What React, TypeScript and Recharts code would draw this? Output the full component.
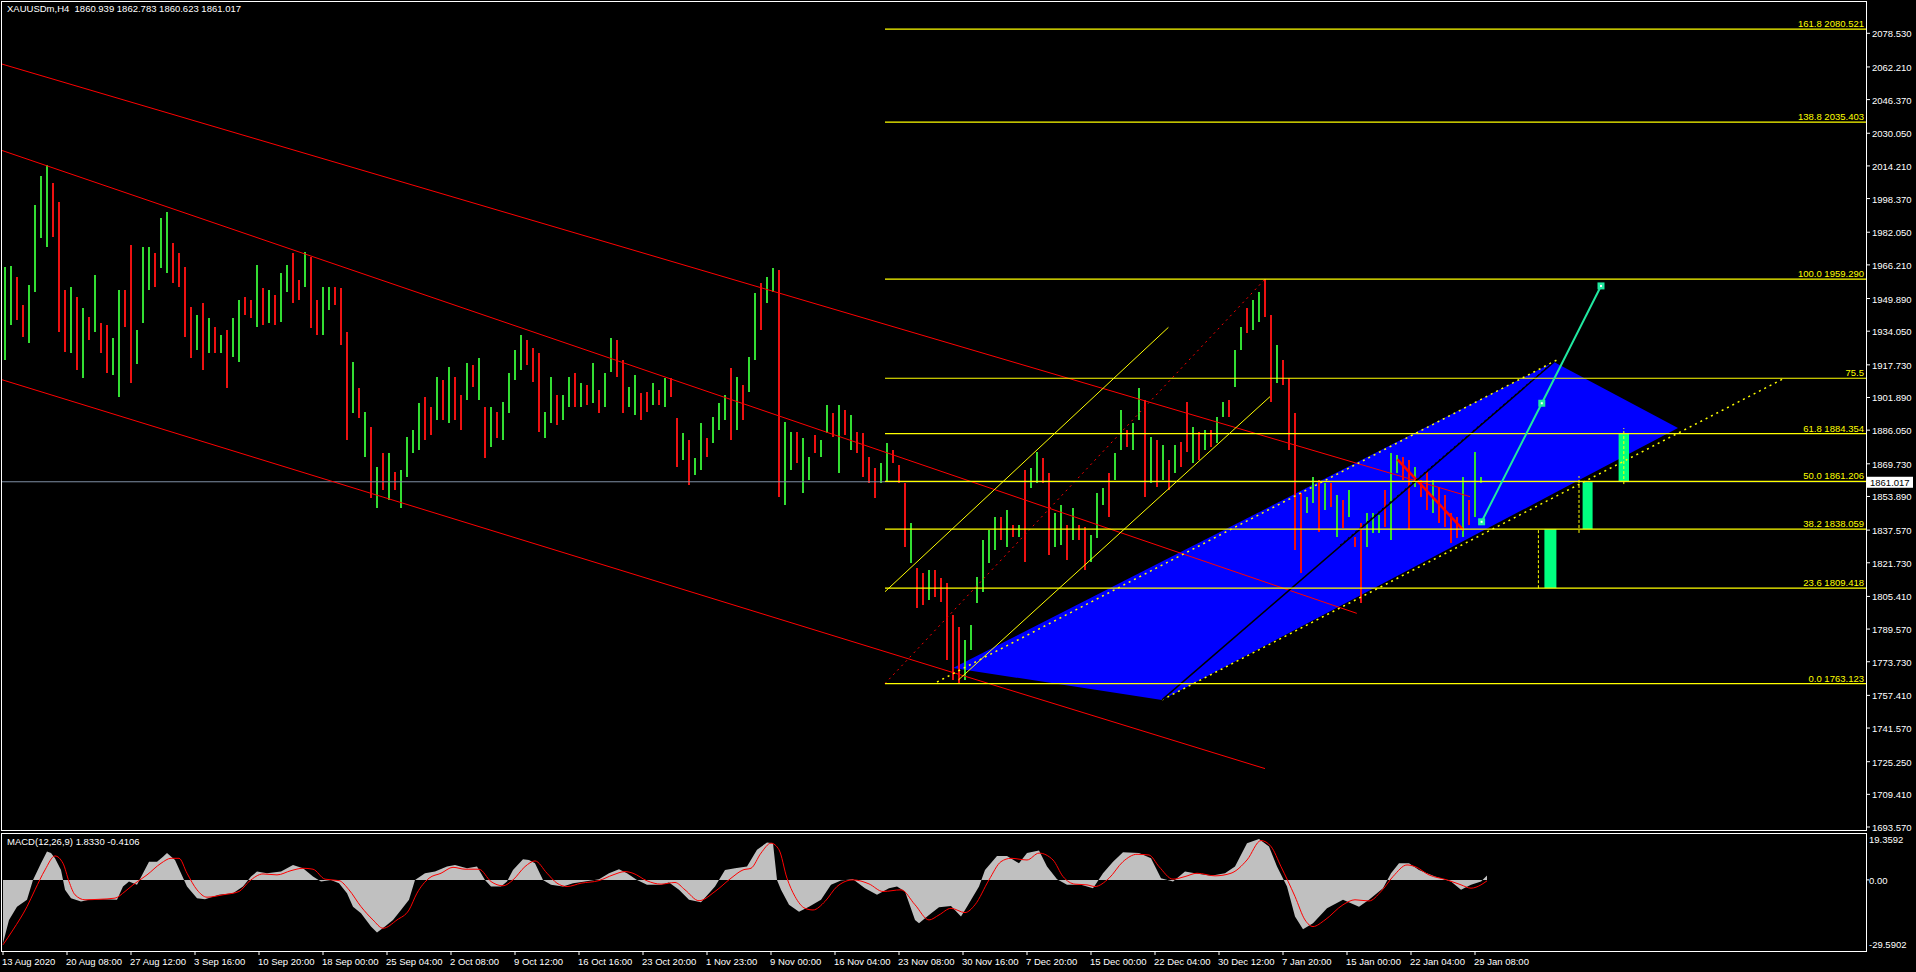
import React from 'react';
import { ComposedChart, Bar, Cell, Area, Line, XAxis, YAxis, ReferenceLine, ReferenceArea } from 'recharts';

const FONT = "'Liberation Sans', Arial, sans-serif";
const UP = '#33dd33';
const DOWN = '#ee1111';
const FIB = '#ffff00';

// H4 candles, one mark per 3 bars (bar index = 1 + 3 * i)
const candleHigh = [
  1965.2, 1965.7, 1960.4, 1946.8, 1956.5, 1995.3, 2009.3, 2014.7, 2005.9, 1996.7,
  1954.1, 1955.5, 1950.7, 1945.3, 1941.0, 1961.3, 1938.0, 1937.1, 1930.8, 1954.1,
  1954.1, 1975.9, 1934.7, 1974.9, 1974.9, 1972.0, 1989.0, 1991.9, 1976.8, 1972.0,
  1965.2, 1945.8, 1941.9, 1947.7, 1940.5, 1936.1, 1932.2, 1934.7, 1940.5, 1949.2,
  1950.7, 1949.2, 1966.2, 1955.0, 1954.1, 1951.6, 1962.3, 1966.2, 1972.0, 1958.9,
  1972.5, 1970.1, 1949.2, 1955.5, 1955.5, 1955.5, 1955.0, 1933.7, 1919.1, 1906.5,
  1894.9, 1887.6, 1868.2, 1875.0, 1875.0, 1865.8, 1866.8, 1882.8, 1886.2, 1899.2,
  1902.2, 1897.3, 1911.9, 1910.4, 1916.7, 1911.9, 1903.1, 1918.6, 1917.7, 1921.1,
  1897.3, 1897.3, 1894.9, 1899.7, 1913.8, 1925.0, 1932.2, 1929.8, 1925.9, 1923.5,
  1894.9, 1911.9, 1903.1, 1903.1, 1911.9, 1913.8, 1908.9, 1908.0, 1918.6, 1905.6,
  1913.8, 1930.8, 1929.8, 1920.1, 1907.0, 1912.8, 1904.1, 1904.6, 1908.9, 1905.6,
  1911.4, 1911.4, 1892.0, 1884.7, 1881.3, 1872.6, 1889.5, 1882.3, 1892.5, 1899.2,
  1903.1, 1916.2, 1911.9, 1908.0, 1921.6, 1952.6, 1957.4, 1960.4, 1964.7, 1963.8,
  1890.0, 1885.2, 1885.2, 1882.3, 1873.1, 1883.7, 1881.3, 1898.3, 1894.4, 1898.3,
  1895.9, 1893.4, 1885.2, 1884.7, 1873.1, 1867.7, 1870.1, 1879.8, 1876.5, 1869.2,
  1860.4, 1841.0, 1819.2, 1816.8, 1818.3, 1818.3, 1814.4, 1811.9, 1796.4, 1790.6,
  1784.3, 1791.6, 1814.9, 1832.8, 1837.7, 1844.0, 1844.0, 1847.4, 1840.1, 1840.1,
  1866.8, 1867.7, 1875.5, 1872.6, 1865.3, 1845.9, 1849.8, 1840.1, 1848.3, 1840.1,
  1839.1, 1835.2, 1855.6, 1858.0, 1865.3, 1875.0, 1895.9, 1886.2, 1889.5, 1906.5,
  1900.7, 1882.8, 1881.3, 1878.9, 1871.6, 1878.9, 1880.3, 1899.7, 1887.6, 1885.2,
  1886.2, 1886.2, 1892.5, 1899.7, 1900.7, 1925.0, 1936.1, 1945.3, 1949.2, 1953.1,
  1959.3, 1941.9, 1927.4, 1920.1, 1911.4, 1894.4, 1855.6, 1853.7, 1863.4, 1861.9,
  1860.4, 1860.4, 1854.6, 1852.2, 1857.1, 1834.3, 1841.0, 1845.9, 1845.9, 1844.9,
  1857.1, 1875.0, 1874.0, 1873.1, 1871.6, 1868.2, 1861.9, 1865.8, 1861.9, 1858.5,
  1854.6, 1845.9, 1844.0, 1863.4, 1852.2, 1875.5, 1863.4,
];

const candleLow = [
  1920.1, 1937.1, 1939.5, 1931.3, 1928.3, 1953.1, 1979.3, 1974.9, 1979.8, 1933.7,
  1924.0, 1923.5, 1915.3, 1911.4, 1929.8, 1933.7, 1923.5, 1913.8, 1912.8, 1902.2,
  1936.1, 1908.9, 1918.2, 1938.0, 1954.1, 1955.5, 1964.7, 1962.3, 1957.4, 1955.5,
  1931.3, 1921.1, 1925.0, 1915.3, 1923.5, 1923.5, 1923.5, 1906.5, 1921.6, 1919.1,
  1941.9, 1940.5, 1936.1, 1937.1, 1938.0, 1937.1, 1938.5, 1953.1, 1947.7, 1949.2,
  1955.5, 1935.6, 1932.2, 1932.2, 1944.4, 1946.8, 1927.4, 1881.3, 1894.4, 1892.0,
  1873.1, 1853.2, 1848.3, 1857.1, 1852.2, 1857.1, 1848.3, 1863.4, 1875.0, 1876.5,
  1881.3, 1883.7, 1891.0, 1891.0, 1889.5, 1891.0, 1886.2, 1900.7, 1907.0, 1900.7,
  1872.6, 1877.9, 1882.3, 1881.3, 1894.4, 1910.4, 1915.3, 1917.7, 1909.4, 1885.2,
  1882.3, 1889.5, 1888.6, 1891.0, 1897.3, 1897.3, 1897.3, 1898.3, 1899.2, 1894.4,
  1897.3, 1914.3, 1911.9, 1894.4, 1897.3, 1893.4, 1891.0, 1894.9, 1898.3, 1898.3,
  1897.3, 1902.2, 1868.2, 1871.6, 1859.5, 1864.3, 1866.8, 1873.1, 1879.8, 1886.2,
  1891.0, 1881.3, 1886.2, 1891.0, 1904.6, 1920.1, 1934.7, 1947.7, 1953.1, 1853.7,
  1849.8, 1866.8, 1870.1, 1855.6, 1861.9, 1875.0, 1873.1, 1884.7, 1882.8, 1865.3,
  1883.7, 1876.5, 1875.0, 1863.4, 1860.4, 1853.2, 1860.4, 1860.9, 1870.1, 1860.4,
  1829.4, 1821.6, 1799.8, 1801.3, 1803.7, 1805.2, 1802.7, 1774.6, 1764.9, 1763.1,
  1764.9, 1779.5, 1802.2, 1807.6, 1821.6, 1828.0, 1832.8, 1829.4, 1834.3, 1834.3,
  1822.1, 1858.0, 1860.4, 1860.4, 1825.5, 1829.4, 1830.4, 1823.1, 1832.8, 1832.8,
  1818.3, 1822.1, 1833.8, 1849.8, 1844.0, 1861.9, 1876.5, 1877.9, 1876.5, 1891.0,
  1853.7, 1860.4, 1858.5, 1861.9, 1857.1, 1865.3, 1868.2, 1875.5, 1870.1, 1871.6,
  1876.5, 1877.9, 1879.8, 1892.5, 1892.5, 1907.0, 1925.0, 1933.2, 1934.7, 1938.5,
  1941.0, 1899.7, 1908.9, 1908.0, 1876.5, 1828.0, 1816.8, 1845.9, 1850.7, 1836.7,
  1847.4, 1848.8, 1834.3, 1838.6, 1844.0, 1829.4, 1802.2, 1829.4, 1836.2, 1836.2,
  1839.1, 1832.8, 1865.3, 1861.9, 1837.7, 1858.5, 1853.7, 1847.4, 1845.9, 1841.0,
  1839.1, 1831.3, 1833.8, 1834.3, 1840.1, 1844.0, 1860.4,
];

// u = bull candle, d = bear candle
const candleDir = [
  'uudduuuudd', 'dudududduu', 'dduuuduudd', 'ddudududuu', 'ddududuudd',
  'udduudddud', 'udududuuuu', 'ddududdudu', 'duduuuuddd', 'uuduududud',
  'uudduuddud', 'udduduuduu', 'ududuuduud', 'uuduuduudu', 'dudddduudd',
  'dudduddddd', 'uuuuuududu', 'duudduudud', 'duuuduuduu', 'dudududdud',
  'uduuduuduu', 'ddudddduud', 'udududduuu', 'duudduddud', 'ddduduu',
].join('');

const lastClose = 1861.017;

const priceTicks = [
  2078.53, 2062.21, 2046.37, 2030.05, 2014.21, 1998.37, 1982.05, 1966.21, 1949.89,
  1934.05, 1917.73, 1901.89, 1886.05, 1869.73, 1853.89, 1837.57, 1821.73, 1805.41,
  1789.57, 1773.73, 1757.41, 1741.57, 1725.25, 1709.41, 1693.57,
];

const dateTickBars = [0, 32, 64, 96, 128, 160, 192, 224, 256, 288, 320, 352, 384, 416, 448, 480, 512, 544, 576, 608, 640, 672, 704, 736];
const dateLabels = [
  '13 Aug 2020', '20 Aug 08:00', '27 Aug 12:00', '3 Sep 16:00', '10 Sep 20:00', '18 Sep 00:00',
  '25 Sep 04:00', '2 Oct 08:00', '9 Oct 12:00', '16 Oct 16:00', '23 Oct 20:00', '1 Nov 23:00',
  '9 Nov 00:00', '16 Nov 04:00', '23 Nov 08:00', '30 Nov 16:00', '7 Dec 20:00', '15 Dec 00:00',
  '22 Dec 04:00', '30 Dec 12:00', '7 Jan 20:00', '15 Jan 00:00', '22 Jan 04:00', '29 Jan 08:00',
];

// fibonacci retracement levels
const fibPrices = [2080.521, 2035.403, 1959.29, 1911.229, 1884.354, 1861.206, 1838.059, 1809.418, 1763.123];
const fibTexts = ['161.8 2080.521', '138.8 2035.403', '100.0 1959.290', '75.5', '61.8 1884.354', '50.0 1861.206', '38.2 1838.059', '23.6 1809.418', '0.0 1763.123'];
const fibStartBar = 441;

// drawing objects, [bar, price] pairs
const redChannel = [
  [[-0.5, 2063.6], [733.5, 1853.8]],
  [[-0.5, 2021.7], [676.9, 1797.2]],
  [[-0.5, 1910.5], [631, 1721.9]],
];
const redThick = [[697.2, 1871.9], [730.2, 1837.6]];
const redDotted = [[441, 1763.123], [631, 1959.29]];
const yellowChannel = [
  [[441, 1807.7], [582.7, 1935.9]],
  [[477.7, 1764.9], [633.5, 1902.3]],
];
const yellowDotted = [
  [[467, 1763.9], [778, 1920.6]],
  [[579.5, 1755.2], [891, 1911.4]],
];
const blackLine = [[579.5, 1755.2], [775.5, 1919.1]];
const blackDotted = [[668.5, 1830.3], [774.5, 1918.6]];

const blueShape = [
  { b: 475, r: [1770.7, 1770.7] },
  { b: 579.5, r: [1755.2, 1822.3] },
  { b: 775.5, r: [1855.4, 1919.1] },
  { b: 837.5, r: [1887.1, 1887.1] },
];

const arrowPts = [
  { b: 739.3, p: 1841.6 },
  { b: 769.4, p: 1899.1 },
  { b: 799, p: 1956.0 },
];

const targetBoxes = [
  [770.7, 776.7, 1809.418, 1838.059],
  [789.8, 794.8, 1838.059, 1861.206],
  [807.8, 813, 1861.206, 1884.354],
];
const targetDashes = [
  [767.7, 1809.4, 1838.06],
  [788, 1836.2, 1863.8],
  [810.4, 1859.9, 1887.1],
];

// MACD(12,26,9): [bar, value]
const macdHist = [
  [0, -26.7], [3, -16.9], [7, -11.3], [12, -8.4], [15, 0], [19, 7.0], [22, 12.0], [24, 11.3], [26, 9.1], [29, 4.2],
  [31, -4.2], [34, -7.7], [39, -9.1], [43, -8.4], [50, -8.2], [57, -8.4], [60, -2.8], [63, -0.7], [67, -2.1], [70, 2.8],
  [73, 7.7], [77, 7.7], [80, 9.8], [82, 11.3], [86, 8.4], [89, 2.8], [92, -2.8], [97, -7.7], [101, -8.2], [108, -6.3],
  [115, -5.6], [120, -2.8], [124, 1.4], [127, 3.5], [132, 2.8], [139, 3.5], [145, 6.3], [150, 4.9], [155, 1.4], [159, -0.7],
  [164, 0], [168, -1.4], [172, -5.6], [175, -11.3], [179, -14.1], [184, -19.7], [187, -22.2], [191, -19.7], [195, -16.9], [199, -12.7],
  [203, -8.4], [206, 0], [211, 2.8], [216, 3.5], [222, 5.6], [226, 6.3], [232, 4.9], [237, 5.6], [241, 0], [244, -2.8],
  [249, -2.8], [252, -0.7], [255, 4.2], [260, 8.7], [263, 8.4], [266, 7.0], [270, 0], [274, -2.1], [280, -2.8], [285, -1.4],
  [291, -0.7], [298, 0.3], [303, 2.8], [308, 4.5], [312, 2.8], [317, 0], [322, -2.1], [329, -2.1], [333, -1.1], [338, -4.2],
  [343, -8.4], [349, -9.4], [356, -2.8], [361, 4.2], [366, 4.9], [372, 5.6], [377, 12.7], [382, 15.8], [385, 15.5], [387, 0],
  [389, -4.2], [393, -10.5], [398, -13.4], [403, -11.3], [409, -8.4], [414, -2.1], [419, -0.3], [425, 0.3], [431, -3.5], [437, -6.3],
  [443, -3.5], [447, -2.8], [451, -4.9], [456, -16.9], [458, -18.3], [463, -14.8], [468, -11.5], [474, -11.0], [479, -15.5], [482, -11.3],
  [488, -2.8], [491, 4.2], [497, 10.1], [502, 10.1], [508, 7.0], [512, 11.3], [518, 12.4], [522, 5.6], [527, 0.3], [532, -2.1],
  [539, -2.1], [545, -3.5], [550, 2.8], [555, 7.7], [560, 11.7], [568, 11.3], [574, 9.1], [579, 0.7], [585, -0.7], [591, 3.5],
  [596, 2.8], [604, 1.7], [611, 2.8], [616, 5.6], [622, 15.5], [628, 17.2], [633, 14.1], [637, 5.6], [642, -2.8], [646, -15.5],
  [650, -20.8], [655, -18.3], [662, -12.0], [670, -8.4], [678, -11.3], [683, -8.4], [690, -3.5], [694, 2.8], [698, 7.0], [703, 7.0],
  [708, 4.2], [716, 1.4], [724, -0.7], [729, -4.2], [734, -2.1], [739, -0.7], [742, 1.8],
];

const macdSignal = [
  [0, -27.4], [5, -21.1], [12, -11.3], [16, -4.2], [21, 4.2], [26, 10.1], [30, 7.0], [33, -0.7], [36, -6.3], [41, -8.4],
  [48, -8.2], [56, -7.7], [61, -4.9], [65, -2.1], [72, 2.1], [79, 7.0], [84, 9.1], [88, 9.1], [92, 2.8], [97, -4.2],
  [102, -7.3], [110, -6.3], [118, -4.9], [123, -0.7], [130, 2.5], [137, 2.1], [144, 3.9], [150, 4.9], [155, 4.5], [161, 0.3],
  [168, -0.3], [173, -4.2], [179, -11.3], [185, -16.9], [190, -20.4], [197, -16.9], [203, -12.7], [207, -5.6], [213, 0.7], [219, 2.8],
  [225, 5.3], [231, 4.5], [238, 4.5], [244, -0.7], [250, -2.5], [255, 0], [261, 5.6], [266, 8.0], [272, 2.8], [277, -1.4],
  [282, -2.8], [289, -1.4], [298, -0.3], [305, 2.1], [311, 3.5], [315, 2.8], [322, -0.4], [329, -1.8], [336, -1.1], [341, -4.2],
  [348, -8.8], [356, -4.9], [364, 0.7], [370, 4.2], [374, 4.9], [379, 11.3], [384, 15.5], [388, 12.7], [392, 0.7], [396, -7.0],
  [401, -12.0], [405, -12.7], [411, -9.1], [417, -2.8], [425, 0], [433, -1.7], [440, -4.9], [449, -4.2], [456, -10.5], [463, -16.9],
  [468, -14.8], [474, -12.0], [481, -13.8], [486, -10.5], [493, 0], [499, 7.7], [504, 9.1], [512, 8.4], [518, 11.3], [525, 8.4],
  [530, 1.4], [536, -1.8], [542, -2.1], [546, -2.8], [553, 0.7], [560, 7.7], [567, 10.8], [573, 10.5], [578, 5.6], [585, 0.3],
  [591, 1.4], [597, 2.8], [606, 1.7], [614, 2.8], [622, 8.4], [629, 16.6], [634, 14.1], [639, 5.6], [646, -7.0], [651, -16.9],
  [655, -19.7], [661, -16.9], [670, -10.5], [676, -8.4], [683, -8.9], [689, -4.9], [695, 1.4], [702, 6.3], [706, 5.6], [713, 2.1],
  [722, 0], [729, -2.1], [734, -3.5], [739, -2.1], [742, -0.4],
];
const macdMax = 19.3592;
const macdMin = -29.5902;

const X_DOMAIN = [-0.5, 931.5];

const candles = candleHigh.map((h, i) => ({ b: 1 + 3 * i, range: [candleLow[i], h], up: candleDir[i] === 'u' }));
const histData = macdHist.map(([b, v]) => ({ b, v }));
const sigData = macdSignal.map(([b, v]) => ({ b, s: v }));

const seg = (s: number[][]) => [{ x: s[0][0], y: s[0][1] }, { x: s[1][0], y: s[1][1] }];

// thin, crisp candle stick centred on its slot
const CandleShape = (props: any) => {
  const { x, y, width, height, payload } = props;
  if (x == null || y == null) return null;
  const cx = x + width / 2;
  return (
    <rect
      x={Math.round(cx - 1)}
      y={y}
      width={2}
      height={Math.max(1, height)}
      fill={payload && payload.up ? UP : DOWN}
      shapeRendering="crispEdges"
    />
  );
};

const PriceTick = (props: any) => {
  const { x, y, payload } = props;
  return (
    <g>
      <line x1={x} x2={x + 4} y1={y} y2={y} stroke="#fff" />
      <text x={x + 6} y={y + 4} fill="#fff" fontSize={9.5} fontFamily={FONT}>{Number(payload.value).toFixed(3)}</text>
    </g>
  );
};

const MacdTick = (props: any) => {
  const { x, y, payload } = props;
  const v = Number(payload.value);
  const txt = v === 0 ? '0.00' : v.toFixed(4);
  const dy = v === macdMax ? 9 : v === macdMin ? -2 : 4;
  return (
    <g>
      {v === 0 ? <line x1={x} x2={x + 3} y1={y} y2={y} stroke="#fff" /> : null}
      <text x={x + 3} y={y + dy} fill="#fff" fontSize={9.5} fontFamily={FONT}>{txt}</text>
    </g>
  );
};

const DateTick = (props: any) => {
  const { x, y, payload, index } = props;
  return (
    <g>
      <line x1={x} x2={x} y1={y + 1} y2={y + 5} stroke="#fff" />
      <text x={x - 1} y={y + 15} fill="#fff" fontSize={9.5} fontFamily={FONT}>{dateLabels[index] ?? String(payload.value)}</text>
    </g>
  );
};

const FibLabel = (props: any) => {
  const { viewBox, text } = props;
  if (!viewBox) return null;
  return (
    <text x={viewBox.x + viewBox.width - 2} y={viewBox.y - 2} textAnchor="end" fill={FIB} fontSize={9.5} fontFamily={FONT}>{text}</text>
  );
};

const PriceTag = (props: any) => {
  const { viewBox } = props;
  if (!viewBox) return null;
  const x = viewBox.x + viewBox.width;
  const y = viewBox.y;
  return (
    <g>
      <rect x={x + 1} y={y - 5} width={46} height={11} fill="#fff" />
      <text x={x + 4} y={y + 4} fill="#000" fontSize={9.5} fontFamily={FONT}>{lastClose.toFixed(3)}</text>
    </g>
  );
};

const SquareDot = (props: any) => {
  const { cx, cy } = props;
  if (cx == null || cy == null) return null;
  return (
    <g>
      <rect x={cx - 3.5} y={cy - 3.5} width={7} height={7} fill="#20e8a0" />
      <rect x={cx - 1} y={cy - 1} width={2} height={2} fill="#fff" />
    </g>
  );
};

export default function App() {
  return (
    <div style={{ position: 'absolute', left: 0, top: 0, width: 1916, height: 972, background: '#000', overflow: 'hidden', fontFamily: FONT }}>
      <div style={{ position: 'absolute', left: 0, top: 0 }}>
        <ComposedChart width={1916} height={832} data={candles} margin={{ top: 2, right: 0, bottom: 2, left: 2 }}>
          <XAxis dataKey="b" type="number" domain={X_DOMAIN} allowDataOverflow hide height={0} />
          <YAxis
            orientation="right"
            width={50}
            type="number"
            domain={[1692.12, 2093.71]}
            allowDataOverflow
            ticks={priceTicks}
            interval={0}
            tick={<PriceTick />}
            tickLine={false}
            axisLine={false}
            tickSize={0}
            tickMargin={0}
          />
          <Area data={blueShape} dataKey="r" type="linear" stroke="none" fill="#0000ff" fillOpacity={1} isAnimationActive={false} zIndex={50} />
          <Bar dataKey="range" barSize={3} isAnimationActive={false} shape={<CandleShape />} zIndex={300}>
            {candles.map((c, i) => (
              <Cell key={i} fill={c.up ? UP : DOWN} />
            ))}
          </Bar>
          <ReferenceLine y={lastClose} stroke="#7f8fa6" label={<PriceTag />} />
          {redChannel.map((s, i) => (
            <ReferenceLine key={'rc' + i} segment={seg(s)} stroke="#ff0000" />
          ))}
          <ReferenceLine segment={seg(redThick)} stroke="#ff0000" strokeWidth={2.5} />
          <ReferenceLine segment={seg(redDotted)} stroke="#ff0000" strokeDasharray="2 4" />
          {yellowChannel.map((s, i) => (
            <ReferenceLine key={'yc' + i} segment={seg(s)} stroke={FIB} />
          ))}
          {yellowDotted.map((s, i) => (
            <ReferenceLine key={'yd' + i} segment={seg(s)} stroke={FIB} strokeWidth={1.5} strokeDasharray="2 4" />
          ))}
          <ReferenceLine segment={seg(blackLine)} stroke="#000" strokeWidth={1.5} />
          <ReferenceLine segment={seg(blackDotted)} stroke="#000" strokeDasharray="2 3" />
          {fibPrices.map((p, i) => (
            <ReferenceLine
              key={'fib' + i}
              segment={[{ x: fibStartBar, y: p }, { x: X_DOMAIN[1], y: p }]}
              stroke={FIB}
              strokeWidth={1.2}
              label={<FibLabel text={fibTexts[i]} />}
            />
          ))}
          {targetBoxes.map((r, i) => (
            <ReferenceArea key={'tb' + i} x1={r[0]} x2={r[1]} y1={r[2]} y2={r[3]} fill="#00ff80" fillOpacity={1} stroke="none" />
          ))}
          {targetDashes.map((d, i) => (
            <ReferenceLine key={'td' + i} segment={[{ x: d[0], y: d[1] }, { x: d[0], y: d[2] }]} stroke={FIB} strokeDasharray="3 2" />
          ))}
          <Line data={arrowPts} dataKey="p" type="linear" stroke="#20e8a0" strokeWidth={2} dot={<SquareDot />} isAnimationActive={false} />
        </ComposedChart>
      </div>

      <div style={{ position: 'absolute', left: 0, top: 832 }}>
        <ComposedChart width={1916} height={140} data={histData} margin={{ top: 2, right: 0, bottom: 0, left: 2 }}>
          <XAxis
            dataKey="b"
            type="number"
            domain={X_DOMAIN}
            allowDataOverflow
            ticks={dateTickBars}
            interval={0}
            height={22}
            tick={<DateTick />}
            tickLine={false}
            axisLine={false}
            tickSize={0}
            tickMargin={0}
          />
          <YAxis
            orientation="right"
            width={50}
            type="number"
            domain={[macdMin, macdMax]}
            allowDataOverflow
            ticks={[macdMax, 0, macdMin]}
            interval={0}
            tick={<MacdTick />}
            tickLine={false}
            axisLine={false}
            tickSize={0}
            tickMargin={0}
          />
          <Area dataKey="v" type="linear" baseValue={0} stroke="none" fill="#c0c0c0" fillOpacity={1} isAnimationActive={false} />
          <Line data={sigData} dataKey="s" type="monotone" stroke="#ff0000" strokeWidth={1} dot={false} isAnimationActive={false} />
        </ComposedChart>
      </div>

      <div style={{ position: 'absolute', left: 1, top: 1, width: 1866, height: 830, border: '1px solid #fff', boxSizing: 'border-box', pointerEvents: 'none' }} />
      <div style={{ position: 'absolute', left: 1, top: 833, width: 1866, height: 119, border: '1px solid #fff', boxSizing: 'border-box', pointerEvents: 'none' }} />

      <div style={{ position: 'absolute', left: 7, top: 3, color: '#fff', fontSize: 9.5, whiteSpace: 'pre' }}>
        {'XAUUSDm,H4  1860.939 1862.783 1860.623 1861.017'}
      </div>
      <div style={{ position: 'absolute', left: 7, top: 836, color: '#fff', fontSize: 9.5, whiteSpace: 'pre' }}>
        {'MACD(12,26,9) 1.8330 -0.4106'}
      </div>
    </div>
  );
}
